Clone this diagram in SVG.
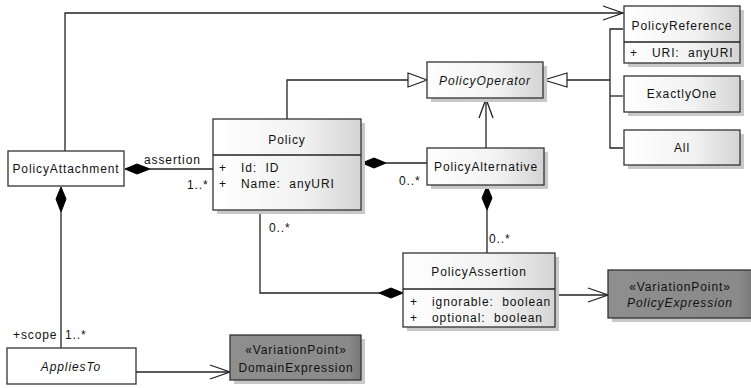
<svg xmlns="http://www.w3.org/2000/svg" width="751" height="388" viewBox="0 0 751 388">
<defs>
<linearGradient id="g" x1="0" y1="0" x2="1" y2="0">
<stop offset="0" stop-color="#ffffff"/><stop offset="0.6" stop-color="#f2f2f2"/><stop offset="1" stop-color="#d4d4d4"/>
</linearGradient>
<linearGradient id="dg" x1="0" y1="0" x2="1" y2="0">
<stop offset="0" stop-color="#8e8e8e"/><stop offset="0.9" stop-color="#8a8a8a"/><stop offset="1" stop-color="#777777"/>
</linearGradient>
</defs>
<style>
.b{fill:url(#g);stroke:#333;stroke-width:1.3}
.w{fill:#fff;stroke:#333;stroke-width:1.3}
.d{fill:url(#dg);stroke:#333;stroke-width:1.3}
.s{fill:#c8c8c8;stroke:none}
.t{font-family:"Liberation Sans",Arial,sans-serif;font-size:12px;fill:#111;letter-spacing:0.9px;white-space:pre}
.c{text-anchor:middle}
.i{font-style:italic}
.l{fill:none;stroke:#222;stroke-width:1.3}
.h{fill:#fff;stroke:#222;stroke-width:1.2}
.k{fill:#000;stroke:#000;stroke-width:1}
</style>
<g id="connectors">
<polyline class="l" points="65,151 65,13 623,13"/>
<polyline class="l" points="603,6 623,13 603,20"/>
<polyline class="l" points="287,119 287,80 408,80"/>
<polygon class="h" points="408,73 427,80 408,87"/>
<polyline class="l" points="567,80 610,80"/>
<polyline class="l" points="623,29 610,29 610,148 623,148"/>
<line class="l" x1="610" y1="96" x2="623" y2="96"/>
<polygon class="h" points="567,73 544,80 567,87"/>
<line class="l" x1="486" y1="148" x2="486" y2="99"/>
<polyline class="l" points="479,118 486,99 493,118"/>
<line class="l" x1="150" y1="169" x2="213" y2="169"/>
<polygon class="k" points="125,169 137,164 150,169 137,174"/>
<line class="l" x1="386" y1="163" x2="427" y2="163"/>
<polygon class="k" points="362,163 374,158 386,163 374,168"/>
<line class="l" x1="487" y1="210" x2="487" y2="253"/>
<polygon class="k" points="487,186 492,198 487,210 482,198"/>
<polyline class="l" points="260,210 260,293 380,293"/>
<polygon class="k" points="403,293 391,288 379,293 391,298"/>
<line class="l" x1="61" y1="212" x2="61" y2="348"/>
<polygon class="k" points="61,187 66,199 61,212 56,199"/>
<line class="l" x1="136" y1="372" x2="230" y2="372"/>
<polyline class="l" points="210,365 230,372 210,379"/>
<line class="l" x1="555" y1="295" x2="608" y2="295"/>
<polyline class="l" points="588,288 608,295 588,302"/>
</g>
<g id="labels">
<text class="t" x="144" y="164">assertion</text>
<text class="t" x="187" y="189">1..*</text>
<text class="t" x="399" y="185">0..*</text>
<text class="t" x="269" y="232">0..*</text>
<text class="t" x="489" y="243">0..*</text>
<text class="t" x="13" y="339">+scope</text>
<text class="t" x="65" y="339">1..*</text>
</g>
<g id="PolicyAttachment">
<rect class="w" x="8" y="151" width="116" height="35"/>
<text class="t c" x="66" y="173">PolicyAttachment</text>
</g>
<g id="Policy">
<rect class="s" x="217" y="123" width="148" height="91"/>
<rect class="b" x="213" y="119" width="148" height="91"/>
<line class="l" x1="213" y1="155" x2="361" y2="155"/>
<text class="t c" x="287" y="144">Policy</text>
<text class="t" x="219" y="172">+</text>
<text class="t" x="241" y="172" xml:space="preserve">Id:  ID</text>
<text class="t" x="219" y="188">+</text>
<text class="t" x="241" y="188" xml:space="preserve">Name:  anyURI</text>
</g>
<g id="PolicyOperator">
<rect class="s" x="431" y="66" width="116" height="36"/>
<rect class="b" x="427" y="62" width="116" height="36"/>
<text class="t c i" x="485" y="85">PolicyOperator</text>
</g>
<g id="PolicyReference">
<rect class="s" x="628" y="10" width="116" height="57"/>
<rect class="b" x="624" y="6" width="116" height="57"/>
<line class="l" x1="624" y1="42" x2="740" y2="42"/>
<text class="t c" x="682" y="30">PolicyReference</text>
<text class="t" x="630" y="57">+</text>
<text class="t" x="652" y="57" xml:space="preserve">URI:  anyURI</text>
</g>
<g id="ExactlyOne">
<rect class="s" x="628" y="80" width="116" height="36"/>
<rect class="b" x="624" y="76" width="116" height="36"/>
<text class="t c" x="682" y="98">ExactlyOne</text>
</g>
<g id="All">
<rect class="s" x="628" y="134" width="116" height="35"/>
<rect class="b" x="624" y="130" width="116" height="35"/>
<text class="t c" x="682" y="152">All</text>
</g>
<g id="PolicyAlternative">
<rect class="s" x="431" y="152" width="117" height="37"/>
<rect class="b" x="427" y="148" width="117" height="37"/>
<text class="t c" x="486" y="171">PolicyAlternative</text>
</g>
<g id="PolicyAssertion">
<rect class="s" x="407" y="257" width="152" height="74"/>
<rect class="b" x="403" y="253" width="152" height="74"/>
<line class="l" x1="403" y1="289" x2="555" y2="289"/>
<text class="t c" x="479" y="276">PolicyAssertion</text>
<text class="t" x="410" y="306">+</text>
<text class="t" x="432" y="306" xml:space="preserve">ignorable:  boolean</text>
<text class="t" x="410" y="322">+</text>
<text class="t" x="432" y="322" xml:space="preserve">optional:  boolean</text>
</g>
<g id="AppliesTo">
<rect class="w" x="7" y="348" width="129" height="36"/>
<text class="t c i" x="71" y="371">AppliesTo</text>
</g>
<g id="DomainExpression">
<rect class="s" x="234" y="339" width="131" height="45"/>
<rect class="d" x="230" y="335" width="131" height="45"/>
<text class="t c" x="296" y="354">«VariationPoint»</text>
<text class="t c" x="296" y="372">DomainExpression</text>
</g>
<g id="PolicyExpression">
<rect class="s" x="612" y="274" width="145" height="48"/>
<rect class="d" x="608" y="270" width="145" height="48"/>
<text class="t c" x="680" y="291">«VariationPoint»</text>
<text class="t c i" x="680" y="307">PolicyExpression</text>
</g>
</svg>
